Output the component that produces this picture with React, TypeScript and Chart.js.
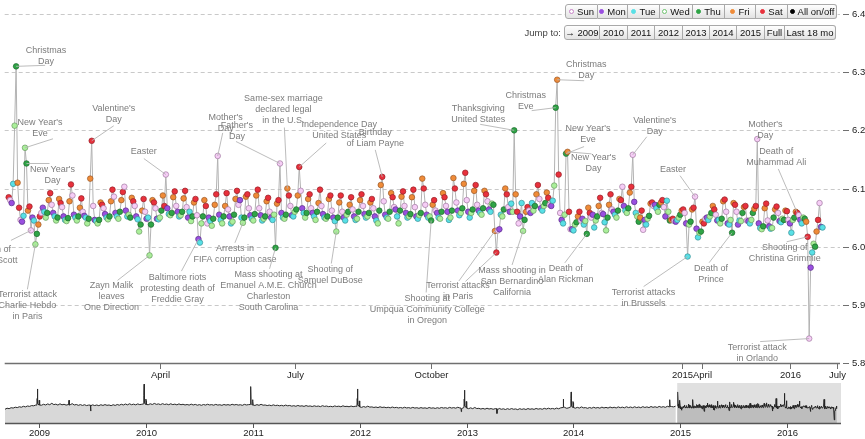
import React, { useEffect, useRef } from "react";
import { Chart, registerables } from "chart.js";
Chart.register(...registerables);

// ---------- data: daily values (first array starts 2014-12-20, others on the 1st) ----------
const dec2014 = [6.085, 6.080, 6.075, 6.108, 6.208, 6.310, 6.110, 6.067, 6.046, 6.043, 6.053, 6.170];
const jan2015 = [6.143, 6.062, 6.069, 6.028, 6.050, 6.045, 6.004, 6.022, 6.038, 6.052, 6.058, 6.067, 6.060, 6.050, 6.058, 6.080, 6.092, 6.072, 6.058, 6.052, 6.045, 6.050, 6.082, 6.075, 6.068, 6.052, 6.046, 6.044, 6.049, 6.078, 6.107];
const feb2015 = [6.088, 6.055, 6.050, 6.045, 6.052, 6.067, 6.083, 6.060, 6.053, 6.050, 6.040, 6.048, 6.117, 6.182, 6.070, 6.046, 6.044, 6.040, 6.046, 6.076, 6.072, 6.066, 6.056, 6.050, 6.047, 6.052, 6.078, 6.098];
const mar2015 = [6.086, 6.058, 6.052, 6.048, 6.060, 6.080, 6.094, 6.103, 6.062, 6.052, 6.055, 6.050, 6.084, 6.078, 6.070, 6.052, 6.047, 6.026, 6.038, 6.062, 6.082, 6.060, 6.048, 6.050, 5.985, 6.038, 6.080, 6.076, 6.066, 6.048, 6.047];
const apr2015 = [6.050, 6.062, 6.088, 6.070, 6.124, 6.066, 6.056, 6.054, 6.058, 6.085, 6.095, 6.070, 6.060, 6.052, 6.054, 6.060, 6.083, 6.096, 6.068, 6.050, 6.060, 6.044, 6.052, 6.076, 6.082, 6.054, 6.013, 6.007, 6.040, 6.052];
const may2015 = [6.080, 6.070, 6.040, 6.050, 6.044, 6.036, 6.048, 6.072, 6.090, 6.156, 6.055, 6.046, 6.040, 6.052, 6.070, 6.092, 6.064, 6.052, 6.040, 6.043, 6.055, 6.082, 6.096, 6.072, 6.080, 6.050, 6.041, 6.050, 6.086, 6.090, 6.066];
const jun2015 = [6.054, 6.048, 6.045, 6.056, 6.088, 6.098, 6.066, 6.054, 6.045, 6.048, 6.052, 6.078, 6.084, 6.060, 6.050, 6.046, 6.055, 5.998, 6.074, 6.080, 6.143, 6.058, 6.050, 6.048, 6.055, 6.100, 6.088, 6.070, 6.054, 6.052];
const jul2015 = [6.060, 6.064, 6.088, 6.137, 6.096, 6.066, 6.058, 6.050, 6.058, 6.082, 6.090, 6.066, 6.058, 6.052, 6.046, 6.060, 6.075, 6.098, 6.070, 6.056, 6.050, 6.048, 6.052, 6.082, 6.088, 6.062, 6.050, 6.044, 6.026, 6.050, 6.076];
const aug2015 = [6.088, 6.060, 6.050, 6.045, 6.055, 6.060, 6.072, 6.085, 6.064, 6.052, 6.046, 6.048, 6.060, 6.080, 6.090, 6.070, 6.056, 6.050, 6.052, 6.058, 6.076, 6.082, 6.066, 6.052, 6.045, 6.040, 6.062, 6.106, 6.120, 6.078, 6.055];
const sep2015 = [6.050, 6.048, 6.060, 6.092, 6.085, 6.068, 6.064, 6.052, 6.040, 6.062, 6.086, 6.095, 6.070, 6.058, 6.050, 6.052, 6.056, 6.085, 6.098, 6.068, 6.052, 6.048, 6.054, 6.058, 6.117, 6.100, 6.072, 6.055, 6.050, 6.052];
const oct2015 = [6.045, 6.072, 6.080, 6.062, 6.058, 6.050, 6.048, 6.060, 6.092, 6.085, 6.070, 6.060, 6.046, 6.050, 6.062, 6.118, 6.100, 6.076, 6.062, 6.054, 6.058, 6.066, 6.108, 6.127, 6.080, 6.060, 6.050, 6.058, 6.064, 6.096, 6.106];
const nov2015 = [6.072, 6.062, 6.058, 6.055, 6.066, 6.096, 6.090, 6.078, 6.064, 6.060, 6.074, 6.072, 6.027, 5.990, 6.028, 6.030, 6.055, 6.052, 6.064, 6.100, 6.090, 6.068, 6.060, 6.074, 6.060, 6.200, 6.090, 6.060, 6.040, 6.052];
const dec2015 = [6.075, 6.027, 6.046, 6.060, 6.068, 6.062, 6.058, 6.075, 6.062, 6.070, 6.090, 6.106, 6.082, 6.066, 6.062, 6.070, 6.075, 6.093, 6.084, 6.072, 6.070, 6.079, 6.105, 6.239, 6.287, 6.124, 6.058, 6.046, 6.040, 6.055, 6.160];
const jan2016 = [6.163, 6.060, 6.030, 6.030, 6.028, 6.038, 6.042, 6.052, 6.060, 6.045, 6.048, 6.038, 6.044, 6.022, 6.067, 6.058, 6.050, 6.055, 6.033, 6.045, 6.052, 6.070, 6.084, 6.058, 6.056, 6.042, 6.028, 6.050, 6.072, 6.090, 6.064];
const feb2016 = [6.060, 6.055, 6.050, 6.062, 6.082, 6.080, 6.103, 6.070, 6.062, 6.058, 6.066, 6.093, 6.103, 6.158, 6.077, 6.058, 6.052, 6.043, 6.050, 6.062, 6.029, 6.046, 6.038, 6.048, 6.053, 6.074, 6.076, 6.070, 6.072];
const mar2016 = [6.066, 6.060, 6.072, 6.076, 6.080, 6.068, 6.052, 6.079, 6.060, 6.045, 6.046, 6.048, 6.044, 6.043, 6.046, 6.050, 6.055, 6.062, 6.064, 6.058, 6.040, 5.983, 6.038, 6.043, 6.064, 6.067, 6.086, 6.031, 6.016, 6.024, 6.026];
const apr2016 = [6.043, 6.040, 6.048, 6.050, 6.046, 6.052, 6.058, 6.070, 6.064, 6.055, 6.045, 6.046, 6.040, 6.048, 6.078, 6.081, 6.060, 6.040, 6.038, 6.046, 6.024, 6.075, 6.072, 6.060, 6.038, 6.045, 6.044, 6.058, 6.068, 6.070];
const may2016 = [6.045, 6.044, 6.040, 6.046, 6.058, 6.065, 6.070, 6.185, 6.040, 6.032, 6.030, 6.035, 6.066, 6.074, 6.045, 6.035, 6.031, 6.032, 6.050, 6.064, 6.069, 6.058, 6.044, 6.042, 6.048, 6.046, 6.062, 6.061, 6.046, 6.040, 6.024];
const jun2016 = [6.046, 6.050, 6.060, 6.058, 6.054, 6.046, 6.040, 6.050, 6.048, 6.043, 6.017, 5.842, 5.964, 5.990, 6.005, 6.000, 6.026, 6.046, 6.075, 6.034, 6.033];

const SERIES: [string, number[]][] = [
  ["2014-12-20", dec2014], ["2015-01-01", jan2015], ["2015-02-01", feb2015], ["2015-03-01", mar2015],
  ["2015-04-01", apr2015], ["2015-05-01", may2015], ["2015-06-01", jun2015], ["2015-07-01", jul2015],
  ["2015-08-01", aug2015], ["2015-09-01", sep2015], ["2015-10-01", oct2015], ["2015-11-01", nov2015],
  ["2015-12-01", dec2015], ["2016-01-01", jan2016], ["2016-02-01", feb2016], ["2016-03-01", mar2016],
  ["2016-04-01", apr2016], ["2016-05-01", may2016], ["2016-06-01", jun2016],
];

// ---------- navigator history: weekly values (2008 from Sep 5, other years from Jan 1) ----------
const nav2008 = [6.020, 6.038, 6.030, 6.046, 6.040, 6.055, 6.048, 6.062, 6.054, 6.070, 6.060, 6.075, 6.068, 6.082, 6.078, 6.090, 6.084];
const nav2009 = [6.100, 6.088, 6.104, 6.092, 6.110, 6.096, 6.120, 6.098, 6.106, 6.090, 6.112, 6.094, 6.104, 6.090, 6.108, 6.096, 6.114, 6.092, 6.100, 6.086, 6.098, 6.084, 6.096, 6.082, 6.090, 6.078, 6.094, 6.082, 6.092, 6.080, 6.096, 6.084, 6.098, 6.086, 6.092, 6.080, 6.096, 6.084, 6.100, 6.088, 6.104, 6.092, 6.108, 6.094, 6.112, 6.096, 6.106, 6.094, 6.110, 6.098, 6.104, 6.100];
const nav2010 = [6.108, 6.096, 6.112, 6.100, 6.118, 6.102, 6.110, 6.098, 6.114, 6.100, 6.108, 6.096, 6.112, 6.098, 6.106, 6.094, 6.110, 6.096, 6.104, 6.092, 6.100, 6.090, 6.106, 6.092, 6.102, 6.088, 6.098, 6.086, 6.100, 6.090, 6.104, 6.092, 6.098, 6.088, 6.102, 6.090, 6.096, 6.086, 6.100, 6.090, 6.098, 6.088, 6.104, 6.092, 6.100, 6.090, 6.096, 6.086, 6.102, 6.092, 6.098, 6.096];
const nav2011 = [6.094, 6.084, 6.098, 6.086, 6.104, 6.088, 6.092, 6.082, 6.090, 6.080, 6.094, 6.082, 6.088, 6.078, 6.086, 6.076, 6.090, 6.078, 6.084, 6.072, 6.080, 6.070, 6.084, 6.072, 6.078, 6.068, 6.082, 6.070, 6.076, 6.066, 6.078, 6.068, 6.074, 6.064, 6.080, 6.068, 6.074, 6.064, 6.070, 6.062, 6.076, 6.066, 6.072, 6.062, 6.078, 6.066, 6.070, 6.062, 6.074, 6.064, 6.070, 6.066];
const nav2012 = [6.062, 6.052, 6.066, 6.054, 6.072, 6.056, 6.060, 6.050, 6.058, 6.048, 6.062, 6.050, 6.056, 6.046, 6.054, 6.044, 6.058, 6.046, 6.052, 6.042, 6.050, 6.040, 6.054, 6.042, 6.048, 6.038, 6.052, 6.040, 6.046, 6.036, 6.048, 6.038, 6.044, 6.034, 6.050, 6.038, 6.044, 6.034, 6.046, 6.036, 6.050, 6.040, 6.046, 6.036, 6.052, 6.040, 6.048, 6.038, 6.054, 6.042, 6.048, 6.044];
const nav2013 = [6.040, 6.030, 6.044, 6.030, 6.050, 6.032, 6.036, 6.024, 6.034, 6.022, 6.038, 6.024, 6.032, 6.020, 6.030, 6.018, 6.034, 6.020, 6.028, 6.016, 6.030, 6.018, 6.032, 6.020, 6.026, 6.014, 6.030, 6.018, 6.028, 6.016, 6.032, 6.020, 6.028, 6.018, 6.034, 6.022, 6.030, 6.020, 6.036, 6.024, 6.038, 6.026, 6.034, 6.024, 6.040, 6.028, 6.044, 6.030, 6.050, 6.036, 6.046, 6.040];
const nav2014 = [6.050, 6.038, 6.052, 6.040, 6.060, 6.044, 6.048, 6.036, 6.050, 6.038, 6.054, 6.040, 6.050, 6.038, 6.056, 6.042, 6.052, 6.040, 6.058, 6.044, 6.054, 6.042, 6.060, 6.046, 6.056, 6.044, 6.062, 6.048, 6.058, 6.046, 6.062, 6.048, 6.058, 6.046, 6.064, 6.050, 6.060, 6.048, 6.066, 6.052, 6.062, 6.050, 6.068, 6.054, 6.064, 6.052, 6.070, 6.056, 6.066, 6.060, 6.072, 6.070];
const NAV_YEARS: [string, number[]][] = [
  ["2008-09-05", nav2008], ["2009-01-01", nav2009], ["2010-01-01", nav2010], ["2011-01-01", nav2011],
  ["2012-01-01", nav2012], ["2013-01-01", nav2013], ["2014-01-01", nav2014],
];
const navEvents: [string, number][] = [
  ["2008-12-23", 6.09], ["2008-12-24", 6.20], ["2008-12-25", 6.36], ["2008-12-26", 6.12], ["2008-12-30", 6.09], ["2008-12-31", 6.17], ["2009-01-01", 6.15], ["2009-01-02", 6.09],
  ["2009-04-11", 6.10], ["2009-04-12", 6.17], ["2009-04-13", 6.09],
  ["2009-06-24", 6.09], ["2009-06-25", 5.99], ["2009-06-26", 6.08],
  ["2009-12-23", 6.11], ["2009-12-24", 6.25], ["2009-12-25", 6.44], ["2009-12-26", 6.13], ["2009-12-30", 6.10], ["2009-12-31", 6.19], ["2010-01-01", 6.16], ["2010-01-02", 6.10],
  ["2010-12-23", 6.10], ["2010-12-24", 6.22], ["2010-12-25", 6.40], ["2010-12-26", 6.12], ["2010-12-30", 6.09], ["2010-12-31", 6.18], ["2011-01-01", 6.15], ["2011-01-02", 6.09],
  ["2011-12-23", 6.07], ["2011-12-24", 6.20], ["2011-12-25", 6.36], ["2011-12-26", 6.10], ["2011-12-30", 6.07], ["2011-12-31", 6.16], ["2012-01-01", 6.14], ["2012-01-02", 6.06],
  ["2012-12-13", 6.04], ["2012-12-14", 5.98], ["2012-12-15", 6.03], ["2012-12-23", 6.05], ["2012-12-24", 6.19], ["2012-12-25", 6.34], ["2012-12-26", 6.08], ["2012-12-30", 6.05], ["2012-12-31", 6.15], ["2013-01-01", 6.13], ["2013-01-02", 6.04],
  ["2013-04-14", 6.03], ["2013-04-15", 5.95], ["2013-04-16", 6.01], ["2013-11-27", 6.05], ["2013-11-28", 6.19], ["2013-11-29", 6.07],
  ["2013-12-23", 6.06], ["2013-12-24", 6.20], ["2013-12-25", 6.31], ["2013-12-26", 6.08], ["2013-12-30", 6.05], ["2013-12-31", 6.15], ["2014-01-01", 6.13], ["2014-01-02", 6.05],
  ["2014-11-26", 6.06], ["2014-11-27", 6.18], ["2014-11-28", 6.07],
];

// ---------- axes ----------
const Y_TICKS = [5.8, 5.9, 6.0, 6.1, 6.2, 6.3, 6.4];
const X_TICKS: [string, string][] = [
  ["2015-04-01", "April"], ["2015-07-01", "July"], ["2015-10-01", "October"],
  ["2016-03-18", "2015"], ["2016-04-01", "April"], ["2016-05-30", "2016"], ["2016-07-01", "July"],
];
const NAV_TICKS = ["2009", "2010", "2011", "2012", "2013", "2014", "2015", "2016"];
const DAY_NAMES = ["Sun", "Mon", "Tue", "Wed", "Thu", "Fri", "Sat"];
const DAY_FILL = ["#f6cdf6", "#9a4fe0", "#58e0e6", "#aaef9a", "#2fa446", "#ef8b38", "#e8313c"];
const DAY_STROKE = ["#a07aa0", "#5a2f88", "#3a8f96", "#6a9a62", "#1d6a2d", "#99592a", "#962028"];
const JUMPS = ["→ 2009", "2010", "2011", "2012", "2013", "2014", "2015", "Full", "Last 18 mo"];

// ---------- annotations (offsets in px from the annotated point) ----------
type Ann = { date: string; lines: string[]; tx: number; ty: number; lx: number; ly: number; extra?: { date: string; lx: number; ly: number } };
const ANNOTATIONS: Ann[] = [
  { date: "2014-12-25", lines: ["Christmas", "Day"], tx: 30, ty: -16, lx: 29, ly: -1 },
  { date: "2014-12-31", lines: ["New Year's", "Eve"], tx: 15, ty: -25, lx: 28, ly: -9 },
  { date: "2015-01-01", lines: ["New Year's", "Day"], tx: 26, ty: 6, lx: 23, ly: 0 },
  { date: "2015-01-04", lines: ["Death of", "Stuart Scott"], tx: -37, ty: 19, lx: -20, ly: 10 },
  { date: "2015-01-07", lines: ["Terrorist attack", "Charlie Hebdo", "in Paris"], tx: -8, ty: 50, lx: -8, ly: 45 },
  { date: "2015-02-14", lines: ["Valentine's", "Day"], tx: 22, ty: -32, lx: 22, ly: -15 },
  { date: "2015-03-25", lines: ["Zayn Malik", "leaves", "One Direction"], tx: -38, ty: 30, lx: -32, ly: 25 },
  { date: "2015-04-05", lines: ["Easter"], tx: -22, ty: -23, lx: -22, ly: -16 },
  { date: "2015-04-27", lines: ["Baltimore riots", "protesting death of", "Freddie Gray"], tx: -21, ty: 38, lx: -17, ly: 32 },
  { date: "2015-05-10", lines: ["Mother's", "Day"], tx: 8, ty: -38, lx: 5, ly: -23 },
  { date: "2015-05-27", lines: ["Arrests in", "FIFA corruption case"], tx: -8, ty: 26, lx: -8, ly: 20 },
  { date: "2015-06-18", lines: ["Mass shooting at", "Emanuel A.M.E. Church", "Charleston", "South Carolina"], tx: -7, ty: 27, lx: -6, ly: 21 },
  { date: "2015-06-21", lines: ["Father's", "Day"], tx: -43, ty: -38, lx: -44, ly: -22 },
  { date: "2015-06-26", lines: ["Same-sex marriage", "declared legal", "in the U.S."], tx: -4, ty: -90, lx: -3, ly: -61 },
  { date: "2015-07-04", lines: ["Independence Day", "United States"], tx: 40, ty: -42, lx: 27, ly: -24 },
  { date: "2015-07-29", lines: ["Shooting of", "Samuel DuBose"], tx: -6, ty: 38, lx: -5, ly: 32 },
  { date: "2015-08-29", lines: ["Birthday", "of Liam Payne"], tx: -7, ty: -44, lx: -7, ly: -27 },
  { date: "2015-10-01", lines: ["Shooting at", "Umpqua Community College", "in Oregon"], tx: -4, ty: 78, lx: -5, ly: 72 },
  { date: "2015-11-13", lines: ["Terrorist attacks", "in Paris"], tx: -37, ty: 55, lx: -36, ly: 50, extra: { date: "2015-11-14", lx: -31, ly: 29 } },
  { date: "2015-11-26", lines: ["Thanksgiving", "United States"], tx: -36, ty: -22, lx: -34, ly: -6 },
  { date: "2015-12-02", lines: ["Mass shooting in", "San Bernardino", "California"], tx: -11, ty: 40, lx: -11, ly: 34 },
  { date: "2015-12-24", lines: ["Christmas", "Eve"], tx: -30, ty: -12, lx: -24, ly: 3 },
  { date: "2015-12-25", lines: ["Christmas", "Day"], tx: 29, ty: -15, lx: 27, ly: 1 },
  { date: "2015-12-31", lines: ["New Year's", "Eve"], tx: 22, ty: -25, lx: 18, ly: -7 },
  { date: "2016-01-01", lines: ["New Year's", "Day"], tx: 26, ty: 6, lx: 24, ly: 2 },
  { date: "2016-01-14", lines: ["Death of", "Alan Rickman"], tx: -21, ty: 35, lx: -22, ly: 29 },
  { date: "2016-02-14", lines: ["Valentine's", "Day"], tx: 22, ty: -34, lx: 14, ly: -18 },
  { date: "2016-03-22", lines: ["Terrorist attacks", "in Brussels"], tx: -44, ty: 36, lx: -44, ly: 30 },
  { date: "2016-03-27", lines: ["Easter"], tx: -22, ty: -27, lx: -15, ly: -21 },
  { date: "2016-04-21", lines: ["Death of", "Prince"], tx: -21, ty: 36, lx: -23, ly: 30 },
  { date: "2016-05-08", lines: ["Mother's", "Day"], tx: 8, ty: -15, lx: 2, ly: -3 },
  { date: "2016-06-04", lines: ["Death of", "Muhammad Ali"], tx: -21, ty: -61, lx: -19, ly: -44 },
  { date: "2016-06-11", lines: ["Shooting of", "Christina Grimmie"], tx: -23, ty: 11, lx: -21, ly: 5 },
  { date: "2016-06-12", lines: ["Terrorist attack", "in Orlando"], tx: -52, ty: 9, lx: -49, ly: 3 },
];

// ---------- helpers ----------
const DAY_MS = 86400000;
const utc = (s: string) => { const [y, m, d] = s.split("-").map(Number); return Date.UTC(y, m - 1, d); };
const EPOCH = utc("2014-12-25");
const dayNum = (s: string) => (utc(s) - EPOCH) / DAY_MS;
const FONT = '"Liberation Sans", Arial, Helvetica, sans-serif';

type P = { x: number; y: number; wd: number; key: string };
function buildSeries(): P[] {
  const out: P[] = [];
  SERIES.forEach(([start, vals]) => {
    vals.forEach((v, i) => {
      const t = utc(start) + i * DAY_MS;
      const d = new Date(t);
      out.push({ x: (t - EPOCH) / DAY_MS, y: v, wd: d.getUTCDay(), key: d.toISOString().slice(0, 10) });
    });
  });
  return out;
}
function buildNav(series: P[]) {
  const first = series[0].x;
  const evX = navEvents.map(([s]) => dayNum(s));
  const pts: { x: number; y: number }[] = [];
  NAV_YEARS.forEach(([start, vals]) => {
    vals.forEach((v, i) => {
      const x = dayNum(start) + i * 7;
      if (x >= first - 2) return;
      if (evX.some((e) => Math.abs(e - x) <= 2)) return;
      pts.push({ x, y: v });
    });
  });
  navEvents.forEach(([s, v]) => pts.push({ x: dayNum(s), y: v }));
  series.forEach((p) => pts.push({ x: p.x, y: p.y }));
  pts.sort((a, b) => a.x - b.x);
  return pts;
}

export default function App() {
  const mainRef = useRef<HTMLCanvasElement>(null);
  const navRef = useRef<HTMLCanvasElement>(null);

  useEffect(() => {
    const series = buildSeries();
    const byKey: Record<string, P> = {};
    series.forEach((p) => (byKey[p.key] = p));
    const navPts = buildNav(series);

    const mainDecor = {
      id: "mainDecor",
      beforeDatasetsDraw(chart: any) {
        const { ctx, chartArea: a, scales } = chart;
        const y = scales.y;
        ctx.save();
        ctx.strokeStyle = "#c9c9c9";
        ctx.lineWidth = 1;
        ctx.setLineDash([4, 3]);
        Y_TICKS.forEach((v) => {
          if (v <= 5.8) return;
          const py = Math.round(y.getPixelForValue(v)) + 0.5;
          ctx.beginPath(); ctx.moveTo(a.left, py); ctx.lineTo(a.right, py); ctx.stroke();
        });
        ctx.restore();
      },
      afterDatasetsDraw(chart: any) {
        const { ctx, scales } = chart;
        const xs = scales.x, ys = scales.y;
        ctx.save();
        ctx.font = `9px ${FONT}`;
        ctx.textAlign = "center";
        ctx.textBaseline = "middle";
        ANNOTATIONS.forEach((an) => {
          const p = byKey[an.date];
          if (!p) return;
          const px = xs.getPixelForValue(p.x), py = ys.getPixelForValue(p.y);
          ctx.strokeStyle = "#b4b4b4";
          ctx.lineWidth = 0.9;
          ctx.beginPath(); ctx.moveTo(px, py); ctx.lineTo(px + an.lx, py + an.ly); ctx.stroke();
          if (an.extra) {
            const q = byKey[an.extra.date];
            if (q) {
              const qx = xs.getPixelForValue(q.x), qy = ys.getPixelForValue(q.y);
              ctx.beginPath(); ctx.moveTo(qx, qy); ctx.lineTo(qx + an.extra.lx, qy + an.extra.ly); ctx.stroke();
            }
          }
          ctx.fillStyle = "#7c7c7c";
          an.lines.forEach((ln, i) => ctx.fillText(ln, px + an.tx, py + an.ty + i * 11));
        });
        ctx.restore();
      },
      afterDraw(chart: any) {
        const { ctx, chartArea: a, scales } = chart;
        const xs = scales.x, ys = scales.y;
        ctx.save();
        ctx.strokeStyle = "#707070";
        ctx.lineWidth = 1.5;
        ctx.beginPath(); ctx.moveTo(a.left, a.bottom + 0.5); ctx.lineTo(a.right, a.bottom + 0.5); ctx.stroke();
        ctx.lineWidth = 1;
        ctx.font = `9.5px ${FONT}`;
        ctx.fillStyle = "#222";
        ctx.textAlign = "center";
        ctx.textBaseline = "middle";
        X_TICKS.forEach(([d, label]) => {
          const px = Math.round(xs.getPixelForValue(dayNum(d))) + 0.5;
          ctx.beginPath(); ctx.moveTo(px, a.bottom); ctx.lineTo(px, a.bottom + 6); ctx.stroke();
          ctx.fillText(label, px, a.bottom + 12);
        });
        ctx.textAlign = "left";
        Y_TICKS.forEach((v) => {
          const py = Math.round(ys.getPixelForValue(v)) + 0.5;
          ctx.beginPath(); ctx.moveTo(a.right + 3, py); ctx.lineTo(a.right + 9, py); ctx.stroke();
          ctx.fillText(v.toFixed(1), a.right + 12, py);
        });
        ctx.restore();
      },
    };

    const main = new Chart(mainRef.current!, {
      type: "line",
      data: {
        datasets: [{
          data: series as any,
          borderColor: "#b3b3b3",
          borderWidth: 1,
          pointRadius: 2.8,
          pointBackgroundColor: series.map((p) => DAY_FILL[p.wd]),
          pointBorderColor: series.map((p) => DAY_STROKE[p.wd]),
          pointBorderWidth: 0.7,
          tension: 0,
        }],
      },
      options: {
        animation: false,
        responsive: false,
        events: [],
        layout: { padding: { left: 0, right: 25, top: 14, bottom: 22 } },
        scales: {
          x: { type: "linear", display: false, min: -7.7, max: 555.8 },
          y: { type: "linear", display: false, min: 5.8, max: 6.4 },
        },
        plugins: { legend: { display: false }, tooltip: { enabled: false } },
      },
      plugins: [mainDecor],
    });

    const selStart = series[0].x;
    const navDecor = {
      id: "navDecor",
      afterDatasetsDraw(chart: any) {
        const { ctx, chartArea: a, scales } = chart;
        const sx = scales.x.getPixelForValue(selStart);
        ctx.save();
        ctx.fillStyle = "rgba(0,0,0,0.12)";
        ctx.fillRect(sx, a.top, a.right - sx, a.bottom - a.top);
        ctx.strokeStyle = "#fff";
        ctx.lineWidth = 1.5;
        ctx.beginPath(); ctx.moveTo(sx, a.top); ctx.lineTo(sx, a.bottom); ctx.stroke();
        ctx.restore();
      },
      afterDraw(chart: any) {
        const { ctx, chartArea: a, scales } = chart;
        const xs = scales.x;
        ctx.save();
        ctx.strokeStyle = "#555";
        ctx.lineWidth = 1.5;
        ctx.beginPath(); ctx.moveTo(a.left, a.bottom + 0.5); ctx.lineTo(a.right, a.bottom + 0.5); ctx.stroke();
        ctx.lineWidth = 1;
        ctx.font = `9.5px ${FONT}`;
        ctx.fillStyle = "#222";
        ctx.textAlign = "center";
        ctx.textBaseline = "middle";
        NAV_TICKS.forEach((yr) => {
          const px = Math.round(xs.getPixelForValue(dayNum(`${yr}-01-01`))) + 0.5;
          ctx.beginPath(); ctx.moveTo(px, a.bottom); ctx.lineTo(px, a.bottom + 5); ctx.stroke();
          ctx.fillText(yr, px, a.bottom + 10);
        });
        ctx.restore();
      },
    };

    const nav = new Chart(navRef.current!, {
      type: "line",
      data: {
        datasets: [{
          data: navPts as any,
          borderColor: "#2a2a2a",
          borderWidth: 1,
          pointRadius: 0,
          fill: "start",
          backgroundColor: "#d8d8d8",
          tension: 0,
        }],
      },
      options: {
        animation: false,
        responsive: false,
        events: [],
        layout: { padding: { left: 5, right: 24, top: 5, bottom: 16 } },
        scales: {
          x: { type: "linear", display: false, min: dayNum("2008-09-05"), max: dayNum("2016-07-05") },
          y: { type: "linear", display: false, min: 5.79, max: 6.46 },
        },
        plugins: { legend: { display: false }, tooltip: { enabled: false } },
      },
      plugins: [navDecor],
    });

    return () => { main.destroy(); nav.destroy(); };
  }, []);

  const dayWidths = [33, 30, 32, 33, 32, 31, 32, 49];
  const jumpWidths = [36, 28, 27, 28, 27, 27, 28, 20, 51];
  const btn = (w: number, first: boolean, last: boolean): React.CSSProperties => ({
    width: w, height: 15, boxSizing: "border-box", border: "1px solid #a9a9a9",
    borderLeft: first ? "1px solid #a9a9a9" : "none",
    borderRadius: first ? "3px 0 0 3px" : last ? "0 3px 3px 0" : 0,
    background: "linear-gradient(#fefefe, #e3e3e3)", display: "flex", alignItems: "center",
    justifyContent: "center", fontSize: 9.5, color: "#111", whiteSpace: "nowrap",
  });
  const dot = (i: number): React.CSSProperties => {
    const hollow = i === 0 || i === 3;
    return {
      display: "inline-block", width: 5, height: 5, borderRadius: "50%", marginRight: 3,
      boxSizing: "border-box",
      background: i === 7 ? "#000" : hollow ? "#fff" : DAY_FILL[i],
      border: i === 7 ? "1px solid #000" : hollow ? `1px solid ${i === 0 ? "#c783c7" : "#6fc36f"}` : `1px solid ${DAY_FILL[i]}`,
    };
  };

  return (
    <div style={{ position: "absolute", left: 0, top: 0, width: 865, height: 439, background: "#fff", overflow: "hidden", fontFamily: FONT }}>
      <canvas ref={mainRef} width={865} height={385} style={{ position: "absolute", left: 0, top: 0, width: 865, height: 385 }} />
      <canvas ref={navRef} width={865} height={61} style={{ position: "absolute", left: 0, top: 378, width: 865, height: 61 }} />
      <div style={{ position: "absolute", left: 565, top: 4, display: "flex" }}>
        {[...DAY_NAMES, "All on/off"].map((n, i) => (
          <div key={n} style={btn(dayWidths[i], i === 0, i === 7)}>
            <span style={dot(i)} />{n}
          </div>
        ))}
      </div>
      <div style={{ position: "absolute", left: 490, top: 25, width: 71, height: 15, fontSize: 9.5, color: "#444", display: "flex", alignItems: "center", justifyContent: "flex-end" }}>Jump to:</div>
      <div style={{ position: "absolute", left: 564, top: 25, display: "flex" }}>
        {JUMPS.map((n, i) => (
          <div key={n} style={btn(jumpWidths[i], i === 0, i === JUMPS.length - 1)}>{n}</div>
        ))}
      </div>
    </div>
  );
}
